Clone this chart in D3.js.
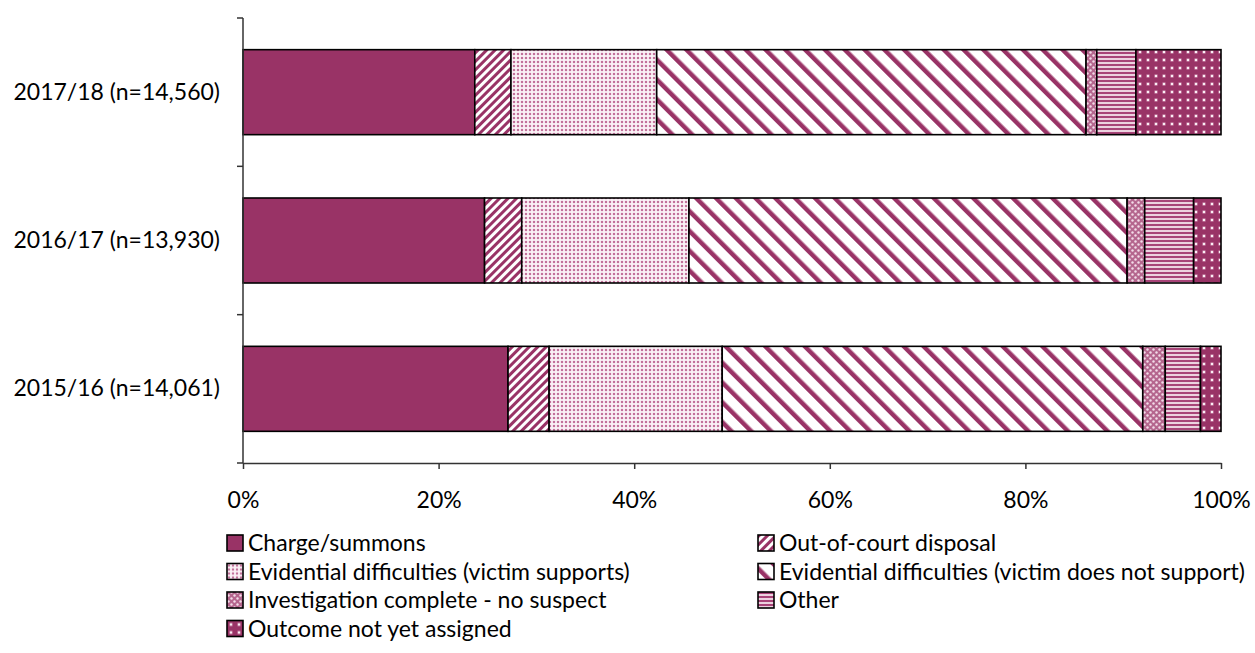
<!DOCTYPE html>
<html>
<head>
<meta charset="utf-8">
<script src="https://cdn.jsdelivr.net/npm/d3@7/dist/d3.min.js"></script>
<style>
  html, body { margin: 0; padding: 0; background: #fff; }
  svg { display: block; }
  text { font-family: Lato, "Open Sans", sans-serif; fill: #000; }
</style>
</head>
<body>
<svg id="chart" width="1255" height="653"></svg>
<script>
// ---- data ----
const categories = ["2017/18 (n=14,560)", "2016/17 (n=13,930)", "2015/16 (n=14,061)"];
const seriesNames = [
  "Charge/summons",
  "Out-of-court disposal",
  "Evidential difficulties (victim supports)",
  "Evidential difficulties (victim does not support)",
  "Investigation complete - no suspect",
  "Other",
  "Outcome not yet assigned"
];
const chargeSummons   = [23.7, 24.7, 27.1];
const outOfCourt      = [3.7, 3.8, 4.2];
const evidSupports    = [14.9, 17.1, 17.7];
const evidNotSupport  = [43.9, 44.8, 43.0];
const invComplete     = [1.1, 1.8, 2.3];
const otherOutcome    = [4.0, 5.0, 3.6];
const notYetAssigned  = [8.7, 2.8, 2.1];
const xTickValues = [0, 0.2, 0.4, 0.6, 0.8, 1.0];

const seriesValues = [chargeSummons, outOfCourt, evidSupports, evidNotSupport, invComplete, otherOutcome, notYetAssigned];

// build table
const table = categories.map((c, i) => {
  const row = { category: c };
  seriesNames.forEach((s, j) => row[s] = seriesValues[j][i]);
  return row;
});

const svg = d3.select("#chart");
const plum = "#993366";
const FS = 23;

// ---- patterns ----
const defs = svg.append("defs");
function pat(id, w, h, transform) {
  const p = defs.append("pattern").attr("id", id).attr("patternUnits", "userSpaceOnUse")
    .attr("width", w).attr("height", h);
  if (transform) p.attr("patternTransform", transform);
  return p;
}
// out-of-court: dense upward diagonal
let p = pat("p1", 6, 6, "rotate(45)");
p.append("rect").attr("width", 6).attr("height", 6).attr("fill", "#fff");
p.append("rect").attr("width", 3).attr("height", 6).attr("fill", plum);
// evidential supports: small dots
p = pat("p2", 4, 4);
p.append("rect").attr("width", 4).attr("height", 4).attr("fill", "#fff");
p.append("rect").attr("x", 0.5).attr("y", 0.5).attr("width", 3).attr("height", 3).attr("fill", "#ecccdc");
p.append("rect").attr("x", 1).attr("y", 1).attr("width", 2).attr("height", 2).attr("fill", "#c2729b");
// evidential not support: wide downward diagonal
p = pat("p3", 14, 14, "rotate(-45)");
p.append("rect").attr("width", 14).attr("height", 14).attr("fill", "#fff");
p.append("rect").attr("width", 4.5).attr("height", 14).attr("fill", plum);
// investigation complete: small checker
p = pat("p4", 6, 6);
p.append("rect").attr("width", 6).attr("height", 6).attr("fill", "#b5668e");
p.append("circle").attr("cx", 1.5).attr("cy", 1.5).attr("r", 1.2).attr("fill", "#f3dce8");
p.append("circle").attr("cx", 4.5).attr("cy", 4.5).attr("r", 1.2).attr("fill", "#f3dce8");
// other: horizontal stripes
p = pat("p5", 4, 4);
p.append("rect").attr("width", 4).attr("height", 4).attr("fill", "#ecd2df");
p.append("rect").attr("y", 0).attr("width", 4).attr("height", 2).attr("fill", "#a84478");
// not yet assigned: plum with white dots
p = pat("p6", 8, 8);
p.append("rect").attr("width", 8).attr("height", 8).attr("fill", plum);
p.append("rect").attr("x", 2.5).attr("y", 2.5).attr("width", 3).attr("height", 3).attr("fill", "#d9a3bf");
p.append("rect").attr("x", 3).attr("y", 3).attr("width", 2).attr("height", 2).attr("fill", "#fbeef4");

const fills = [plum, "url(#p1)", "url(#p2)", "url(#p3)", "url(#p4)", "url(#p5)", "url(#p6)"];
const color = d3.scaleOrdinal().domain(seriesNames).range(fills);

// ---- scales ----
const x = d3.scaleLinear().domain([0, 1]).range([243, 1221]);
const y = d3.scaleBand().domain(categories).range([18, 463]).paddingInner(0.427).paddingOuter(0.2135);

const stack = d3.stack().keys(seriesNames).value((d, k) => d[k] / 100);
const stacked = stack(table);

// bars
svg.append("g").selectAll("g").data(stacked).join("g")
  .attr("fill", d => color(d.key))
  .selectAll("rect").data(d => d).join("rect")
  .attr("x", d => x(d[0]))
  .attr("y", d => y(d.data.category))
  .attr("width", d => x(d[1]) - x(d[0]))
  .attr("height", y.bandwidth())
  .attr("stroke", "#000")
  .attr("stroke-width", 1.6);

// x axis
const xAxis = d3.axisBottom(x).tickValues(xTickValues).tickFormat(d3.format(".0%")).tickSizeInner(6).tickSizeOuter(0);
const gx = svg.append("g").attr("transform", "translate(0,463)").call(xAxis);
gx.select(".domain").attr("stroke", "#333").attr("stroke-width", 1.5);
gx.selectAll(".tick line").attr("stroke", "#333").attr("stroke-width", 1.5);
gx.selectAll(".tick text").attr("y", 37).attr("dy", "0.35em").attr("font-size", FS).attr("font-family", "Lato, sans-serif").attr("fill", "#000");

// y axis
const yStep = y.step();
const yAxis = d3.axisLeft(y).tickSize(0).tickPadding(23);
const gy = svg.append("g").attr("transform", "translate(243,0)").call(yAxis);
gy.select(".domain").remove();
gy.selectAll(".tick text").attr("font-size", FS).attr("font-family", "Lato, sans-serif").attr("fill", "#000");
gy.append("line").attr("x1", 0).attr("x2", 0).attr("y1", 18).attr("y2", 463).attr("stroke", "#333").attr("stroke-width", 1.5);
// band boundary ticks
const boundaries = categories.map(c => y(c) - y.paddingInner() * yStep / 2).concat([463]);
gy.selectAll("line.bt").data(boundaries).join("line").attr("class", "bt")
  .attr("x1", -6).attr("x2", 0).attr("y1", d => d).attr("y2", d => d)
  .attr("stroke", "#333").attr("stroke-width", 1.5);

// legend
const legendPos = [[227, 543], [758, 543], [227, 571.5], [758, 571.5], [227, 600], [758, 600], [227, 628.5]];
const lg = svg.append("g").selectAll("g").data(seriesNames).join("g")
  .attr("transform", (d, i) => `translate(${legendPos[i][0]},${legendPos[i][1]})`);
lg.append("rect").attr("x", 0).attr("y", -8).attr("width", 16).attr("height", 16)
  .attr("fill", d => color(d)).attr("stroke", "#000").attr("stroke-width", 1.6);
lg.append("text").attr("x", 21).attr("y", 0).attr("dy", "0.35em").attr("font-size", FS).text(d => d);
</script>
</body>
</html>
